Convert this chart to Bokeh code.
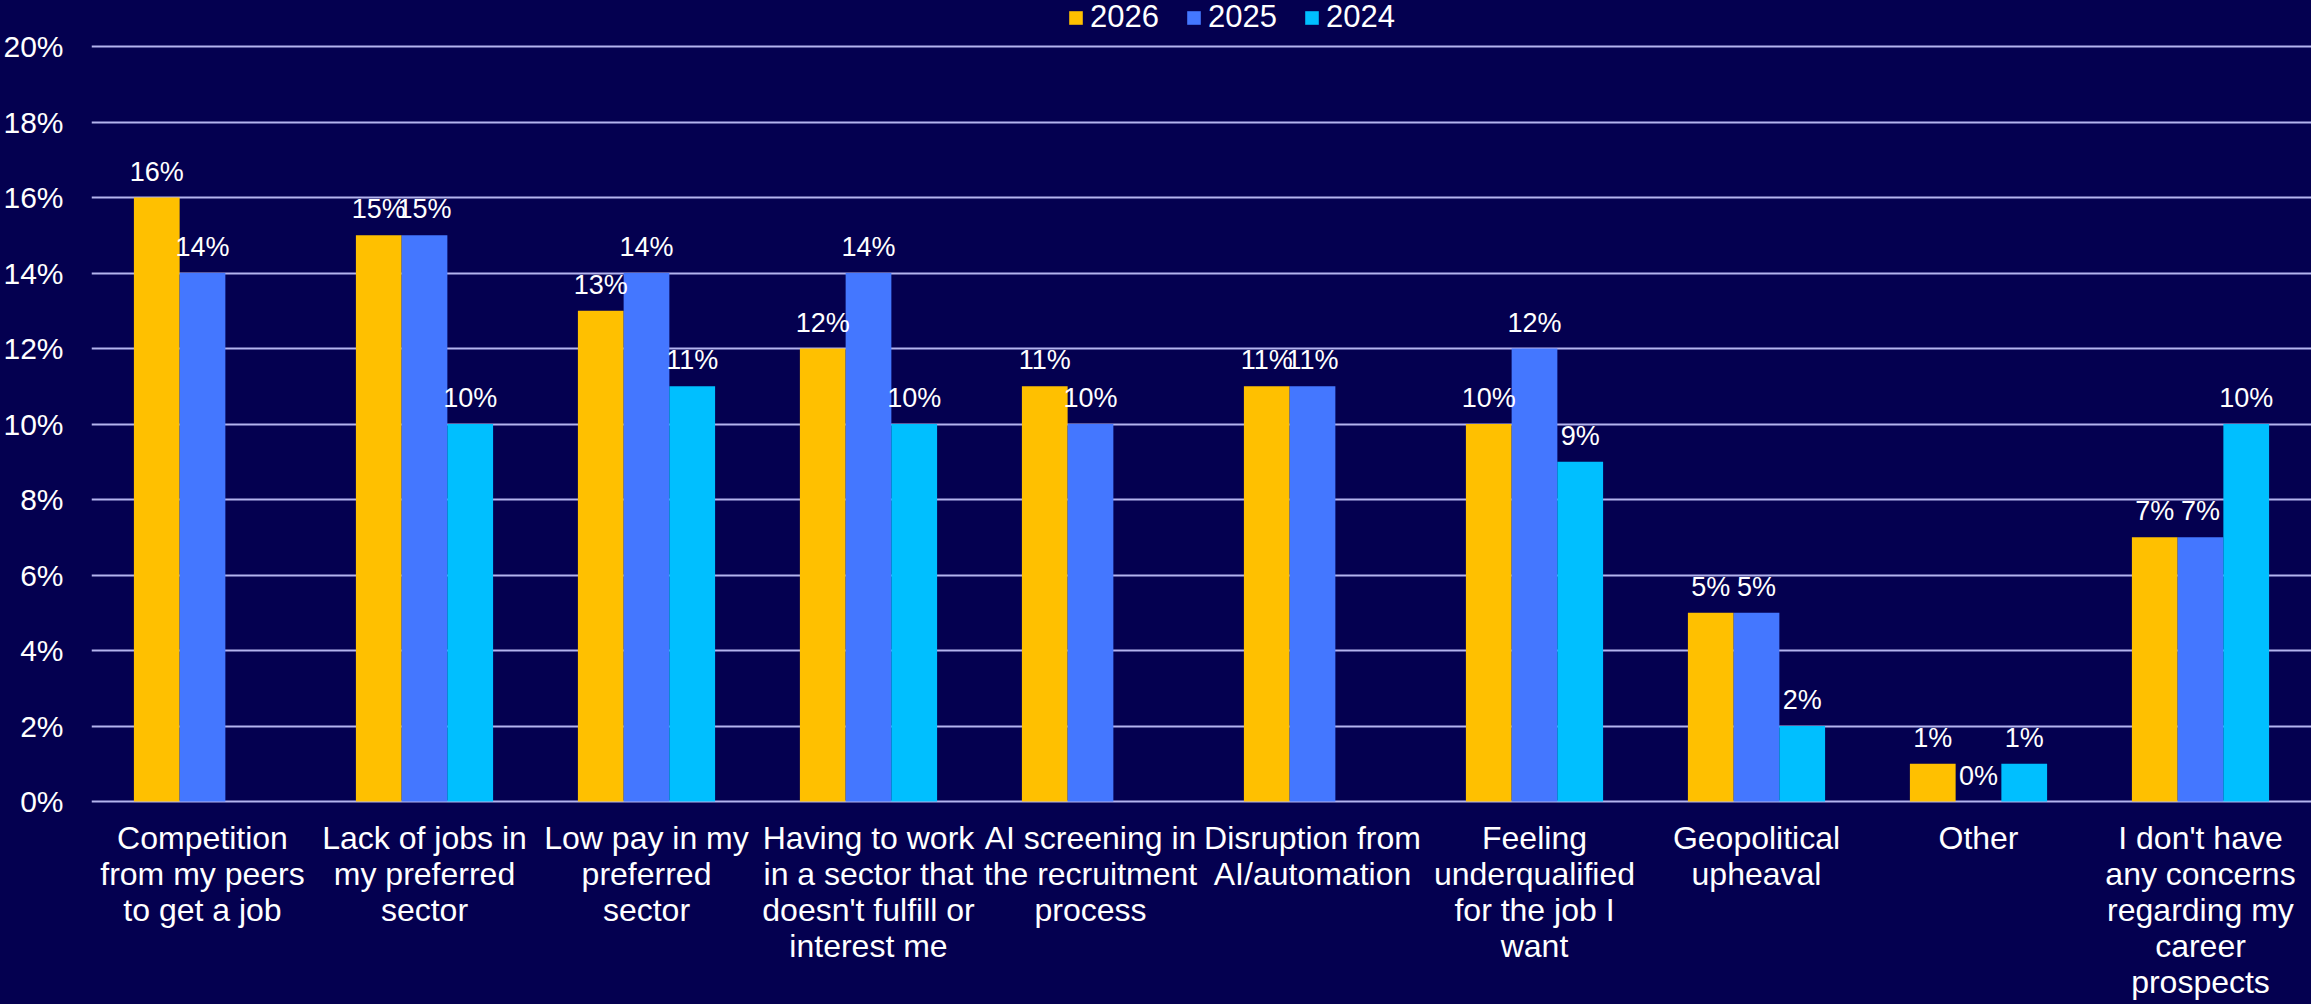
from bokeh.plotting import figure
from bokeh.models import (ColumnDataSource, FactorRange, Range1d, FixedTicker,
                          LabelSet, Legend, LegendItem)
from bokeh.core.properties import value
from bokeh.transform import dodge
from bokeh.embed import file_html
from bokeh.resources import INLINE

categories = [
    "Competition\nfrom my peers\nto get a job",
    "Lack of jobs in\nmy preferred\nsector",
    "Low pay in my\npreferred\nsector",
    "Having to work\nin a sector that\ndoesn't fulfill or\ninterest me",
    "AI screening in\nthe recruitment\nprocess",
    "Disruption from\nAI/automation",
    "Feeling\nunderqualified\nfor the job I\nwant",
    "Geopolitical\nupheaval",
    "Other",
    "I don't have\nany concerns\nregarding my\ncareer\nprospects",
]
years = ["2026", "2025", "2024"]
v2026 = [16, 15, 13, 12, 11, 11, 10, 5, 1, 7]
v2025 = [14, 15, 14, 14, 10, 11, 12, 5, 0, 7]
v2024 = [None, 10, 11, 10, None, None, 9, 2, 1, 10]
y_ticks = [0, 2, 4, 6, 8, 10, 12, 14, 16, 18, 20]

BG = "#040050"
GRID = "#b4b4ee"
COLORS = ["#FFC000", "#4477FF", "#00BFFF"]
FONT = "Liberation Sans"
BAR_W = 0.206
OFFS = [-BAR_W, 0.0, BAR_W]

p = figure(width=2311, height=1004, x_range=FactorRange(*categories),
           y_range=Range1d(-5.377, 21.219), output_backend="svg",
           toolbar_location=None, x_axis_location=None,
           min_border_left=90, min_border_right=0, min_border_top=0,
           min_border_bottom=0)
p.x_range.range_padding = 0
p.background_fill_color = BG
p.border_fill_color = BG
p.outline_line_color = None

items = []
for yr, vals, col, off in zip(years, [v2026, v2025, v2024], COLORS, OFFS):
    cats = [c for c, v in zip(categories, vals) if v is not None]
    vv = [v for v in vals if v is not None]
    src = ColumnDataSource(dict(cat=cats, val=vv, lab=[f"{v}%" for v in vv]))
    r = p.vbar(x=dodge("cat", off, range=p.x_range), top="val", width=BAR_W,
               source=src, fill_color=col, line_color=None)
    items.append(LegendItem(label=yr, renderers=[r]))
    labels = LabelSet(x=dodge("cat", off, range=p.x_range), y="val", text="lab",
                      source=src, text_align="center", text_baseline="alphabetic",
                      y_offset=17, text_color="white", text_font=value(FONT),
                      text_font_size="27px")
    p.add_layout(labels)

# category labels under the bars
csrc = ColumnDataSource(dict(cat=categories, base=[0] * len(categories)))
p.text(x="cat", y="base", text="cat", source=csrc, text_align="center",
       text_baseline="top", y_offset=18, text_color="white",
       text_font=value(FONT), text_font_size="32px", text_line_height=1.0)

legend = Legend(items=items, orientation="horizontal", location=(976, 969),
                background_fill_alpha=0, border_line_color=None,
                label_text_color="white", label_text_font=FONT,
                label_text_font_size="31px", glyph_width=17, glyph_height=17,
                label_standoff=6, spacing=26, padding=0, margin=0)
p.add_layout(legend)

p.yaxis.ticker = FixedTicker(ticks=y_ticks)
p.yaxis.major_label_overrides = {t: f"{t}%" for t in y_ticks}
p.yaxis.axis_line_color = None
p.yaxis.major_tick_line_color = None
p.yaxis.minor_tick_line_color = None
p.yaxis.major_tick_out = 0
p.yaxis.major_label_standoff = 28
p.yaxis.major_label_text_color = "white"
p.yaxis.major_label_text_font = FONT
p.yaxis.major_label_text_font_size = "30px"

p.xgrid.grid_line_color = None
p.ygrid.grid_line_color = GRID
p.ygrid.grid_line_width = 2

html = file_html(p, INLINE).replace("<body>", f'<body style="background:{BG}">')
open("out.html", "w").write(html)
